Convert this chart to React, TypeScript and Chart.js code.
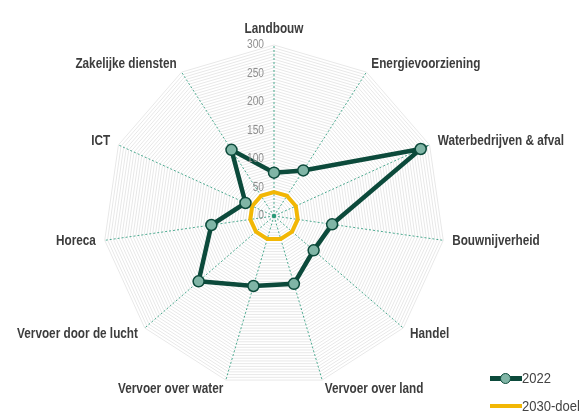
import React, { useEffect, useRef } from 'react';
import { Chart, registerables } from 'chart.js';

Chart.register(...registerables);

const categories = [
  'Landbouw',
  'Energievoorziening',
  'Waterbedrijven & afval',
  'Bouwnijverheid',
  'Handel',
  'Vervoer over land',
  'Vervoer over water',
  'Vervoer door de lucht',
  'Horeca',
  'ICT',
  'Zakelijke diensten',
];
const values2022 = [76, 95, 283, 103, 92, 124, 128, 175, 111, 55, 138];
const values2030 = [42, 42, 42, 42, 42, 42, 42, 42, 42, 42, 42];
const tickLabels = [0, 50, 100, 150, 200, 250, 300];

const DARK = '#0c4a3b';
const SAGE = '#80b5a6';
const YELLOW = '#f2b705';
const FONT = '"Liberation Sans", Arial, sans-serif';

const labelPlugin = {
  id: 'customLabels',
  afterDatasetsDraw(chart: any) {
    const s = chart.scales.r;
    const ctx = chart.ctx;
    ctx.save();
    // tick labels
    ctx.font = `12px ${FONT}`;
    ctx.fillStyle = '#8f8f8f';
    ctx.textAlign = 'right';
    ctx.textBaseline = 'middle';
    tickLabels.forEach((t) => {
      const d = s.getDistanceFromCenterForValue(t);
      ctx.save();
      ctx.translate(s.xCenter - 10, s.yCenter - d);
      ctx.scale(0.85, 1);
      ctx.fillText(String(t), 0, 0);
      ctx.restore();
    });
    // center dot
    ctx.fillStyle = '#2a9a78';
    ctx.beginPath();
    ctx.arc(s.xCenter, s.yCenter, 2.2, 0, Math.PI * 2);
    ctx.fill();
    // point labels
    ctx.font = `bold 14px ${FONT}`;
    ctx.fillStyle = '#3d3d3d';
    ctx.textBaseline = 'middle';
    const h = 14;
    categories.forEach((lab, i) => {
      const p = s.getPointPosition(i, s.drawingArea + 9);
      const dx = (p.x - s.xCenter) / (s.drawingArea + 9);
      const dy = (p.y - s.yCenter) / (s.drawingArea + 9);
      let align = 'center';
      let y = p.y;
      if (dx > 0.1) align = 'left';
      else if (dx < -0.1) align = 'right';
      else y = p.y + (dy * h) / 2;
      ctx.textAlign = align;
      ctx.save();
      ctx.translate(p.x, y);
      ctx.scale(0.84, 1);
      ctx.fillText(lab, 0, 0);
      ctx.restore();
    });
    ctx.restore();
  },
};

export default function App() {
  const ref = useRef<HTMLCanvasElement>(null);
  useEffect(() => {
    if (!ref.current) return;
    const chart = new Chart(ref.current, {
      type: 'radar',
      data: {
        labels: categories,
        datasets: [
          {
            label: '2022',
            data: values2022,
            borderColor: DARK,
            backgroundColor: 'transparent',
            borderWidth: 4.5,
            pointRadius: 5.5,
            pointBackgroundColor: SAGE,
            pointBorderColor: DARK,
            pointBorderWidth: 1.5,
            fill: false,
          },
          {
            label: '2030-doel',
            data: values2030,
            borderColor: YELLOW,
            backgroundColor: 'transparent',
            borderWidth: 4,
            pointRadius: 0,
            fill: false,
          },
        ],
      },
      options: {
        animation: false,
        responsive: true,
        maintainAspectRatio: false,
        layout: { padding: { top: 45, bottom: 27, left: 0, right: 38 } },
        plugins: { legend: { display: false }, tooltip: { enabled: false } },
        scales: {
          r: {
            min: 0,
            max: 300,
            ticks: { stepSize: 5, display: false },
            grid: { color: '#e8e8e8', lineWidth: 1, circular: false },
            angleLines: { display: true, color: '#4aa88e', borderDash: [2, 2], lineWidth: 1 },
            pointLabels: { display: false },
          },
        },
      },
      plugins: [labelPlugin],
    });
    return () => chart.destroy();
  }, []);

  const legendText: React.CSSProperties = {
    position: 'absolute',
    fontFamily: FONT,
    fontSize: 14,
    color: '#444',
    lineHeight: '16px',
    transform: 'scaleX(0.93)',
    transformOrigin: 'left center',
    whiteSpace: 'nowrap',
  };

  return (
    <div style={{ position: 'fixed', left: 0, top: 0, width: 586, height: 414, background: '#fff' }}>
      <canvas ref={ref} />
      <div style={{ position: 'absolute', left: 490, top: 376, width: 32, height: 5, background: DARK }} />
      <div
        style={{
          position: 'absolute',
          left: 500,
          top: 372.5,
          width: 9,
          height: 9,
          borderRadius: '50%',
          background: SAGE,
          border: `1.5px solid ${DARK}`,
        }}
      />
      <div style={{ ...legendText, left: 522, top: 370 }}>2022</div>
      <div style={{ position: 'absolute', left: 490, top: 404, width: 32, height: 4, background: YELLOW }} />
      <div style={{ ...legendText, left: 522, top: 398 }}>2030-doel</div>
    </div>
  );
}
